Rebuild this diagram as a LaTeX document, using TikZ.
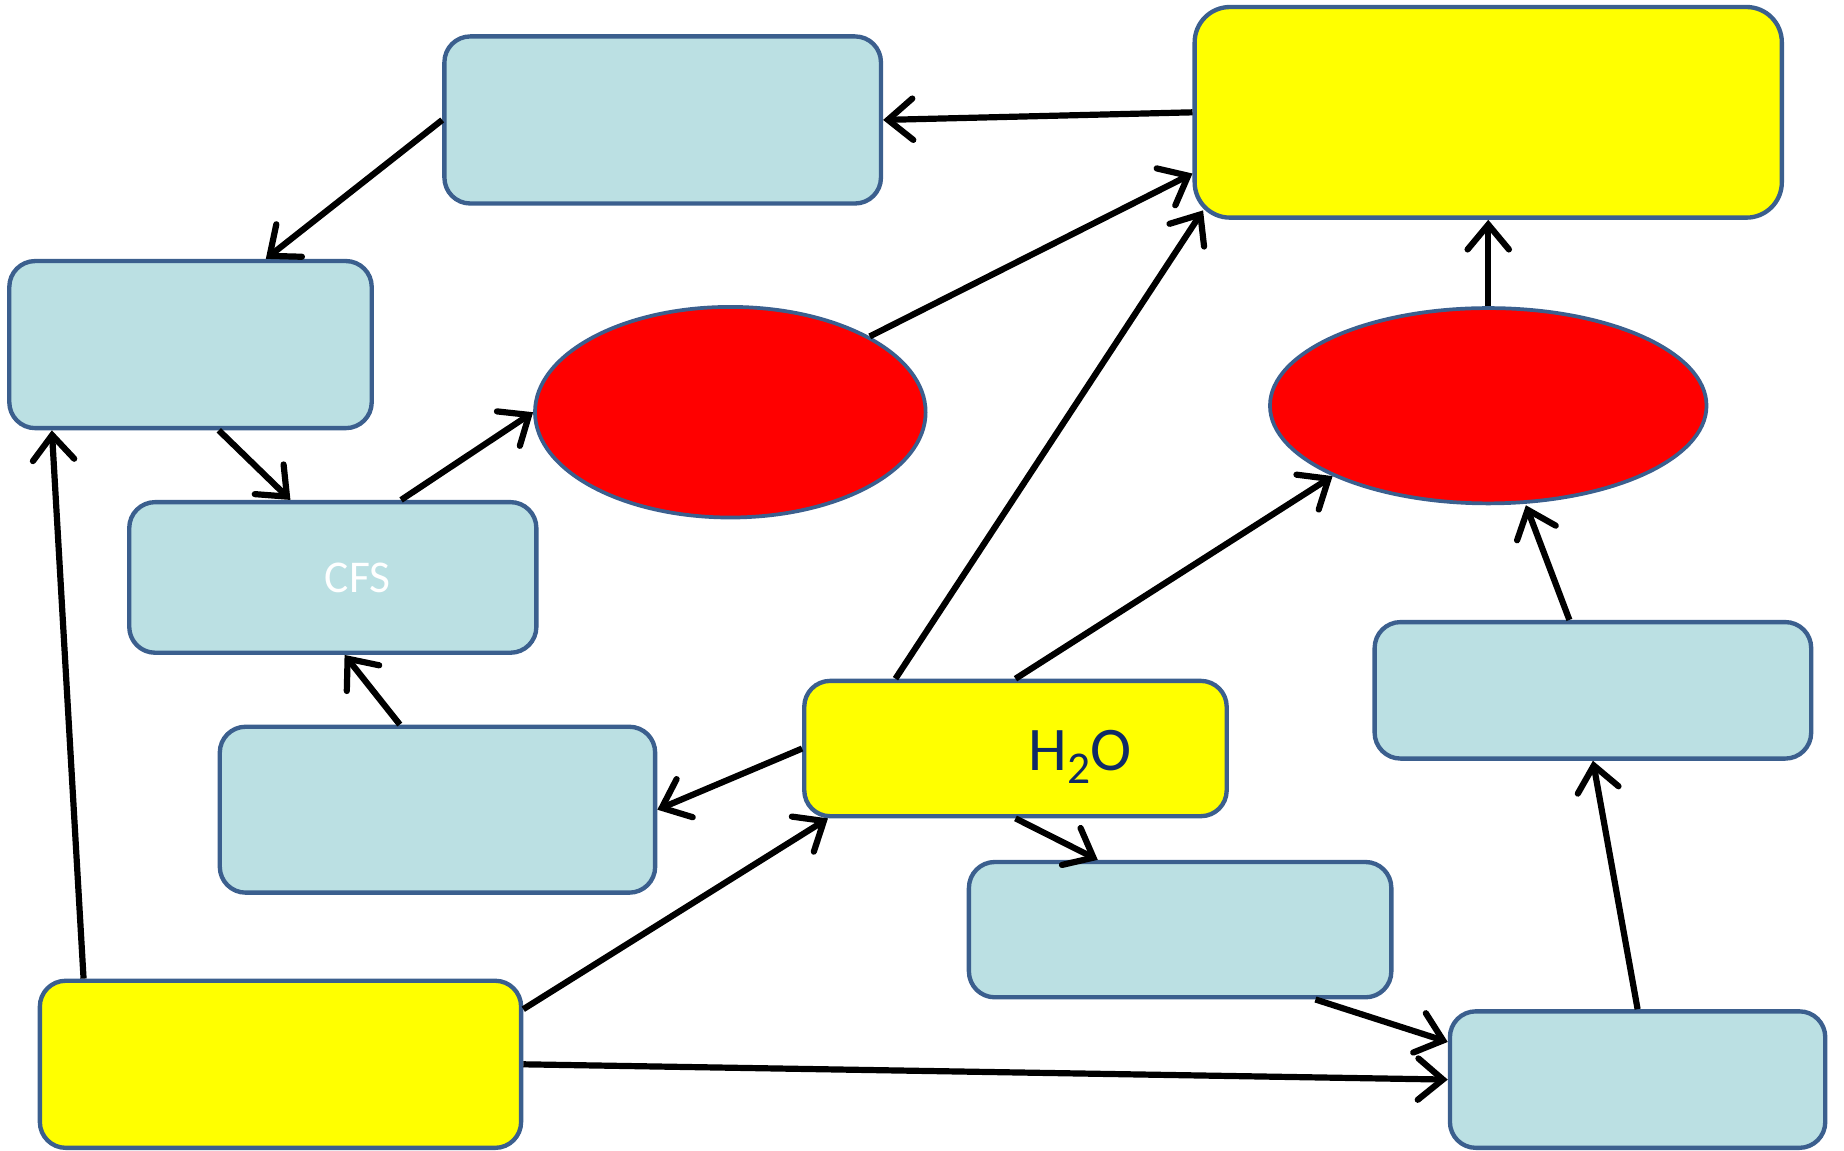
\documentclass[tikz,border=0pt]{standalone}
\usepackage{fontspec}
\setmainfont{Carlito}
\usetikzlibrary{arrows.meta,shapes.geometric}
\definecolor{paleblue}{HTML}{BBE0E3}
\definecolor{edgeblue}{HTML}{3B5F8E}
\definecolor{navytext}{HTML}{0F2A66}
\definecolor{brightyellow}{HTML}{FFFF00}
\definecolor{brightred}{HTML}{FF0000}
\tikzset{every path/.style={line width=1.5pt}, arr/.style={black,-{Straight Barb[length=6pt,width=10pt,line cap=round]}},
  box/.style={draw=edgeblue,line width=1.05pt,fill=paleblue,rounded corners=0.22cm,inner sep=0pt},
  ybox/.style={box,fill=brightyellow},
  redell/.style={draw=edgeblue,line width=0.9pt,fill=brightred,ellipse,inner sep=0pt}}

\begin{document}
\begin{tikzpicture}[x=0.01cm,y=-0.01cm]
  \useasboundingbox (0,0) rectangle (1568,978);
  % boxes
  \node[box,minimum width=3.71cm,minimum height=1.42cm] (a) at (563.5,102) {};
  \node[ybox,rounded corners=0.3cm,minimum width=4.99cm,minimum height=1.79cm] (b) at (1265.5,95.5) {};
  \node[box,minimum width=3.08cm,minimum height=1.42cm] (c) at (162,293) {};
  \node[redell,minimum width=3.32cm,minimum height=1.79cm] (d) at (621,350.5) {};
  \node[redell,minimum width=3.71cm,minimum height=1.66cm] (e) at (1265.5,345) {};
  \node[box,minimum width=3.46cm,minimum height=1.28cm,text=white,font=\fontsize{11}{13}\selectfont] (cfs) at (283,491) {\hspace*{0.42cm}CFS};
  \node[box,minimum width=3.70cm,minimum height=1.41cm] (g) at (372,688.5) {};
  \node[ybox,minimum width=3.59cm,minimum height=1.15cm,text=navytext,font=\fontsize{15}{18}\selectfont] (h2o) at (863.5,636.5) {\hspace*{1.1cm}\raisebox{-0.07cm}[\height][\depth]{H\raisebox{-0.45ex}{\fontsize{11}{13}\selectfont 2}O}};
  \node[box,minimum width=3.71cm,minimum height=1.16cm] (i) at (1354.5,587) {};
  \node[box,minimum width=3.59cm,minimum height=1.15cm] (j) at (1003.5,790.5) {};
  \node[ybox,minimum width=4.09cm,minimum height=1.42cm] (k) at (238.5,905) {};
  \node[box,minimum width=3.19cm,minimum height=1.16cm] (l) at (1392.5,918) {};
  % connectors
  \draw[arr] (b.west) -- (a.east);
  \draw[arr] (a.west) -- ([xshift=0.64cm]c.north);
  \draw[arr] ([xshift=0.24cm]c.south) -- ([xshift=-0.36cm]cfs.north);
  \draw[arr] ([xshift=0.58cm]cfs.north) -- (d.west);
  \draw[arr] (d.north east) -- ([yshift=-0.52cm]b.west);
  \draw[arr] ([xshift=-1.02cm]h2o.north) -- ([xshift=0.09cm,yshift=0.08cm]b.south west);
  \draw[arr] (e.north) -- (b.south);
  \draw[arr] (h2o.north) -- (e.south west);
  \draw[arr] ([xshift=-0.2cm]i.north) -- ([xshift=0.32cm]e.south);
  \draw[arr] ([xshift=-0.32cm]g.north) -- ([xshift=0.1cm]cfs.south);
  \draw[arr] (h2o.west) -- (g.east);
  \draw[arr] ([yshift=-0.26cm]k.north east) -- ([xshift=0.22cm]h2o.south west);
  \draw[arr] ([xshift=0.39cm]k.north west) -- ([xshift=0.38cm]c.south west);
  \draw[arr] (h2o.south) -- ([xshift=-0.7cm]j.north);
  \draw[arr] ([xshift=1.15cm]j.south) -- ([yshift=0.32cm]l.west);
  \draw[arr] (k.east) -- (l.west);
  \draw[arr] (l.north) -- (i.south);
\end{tikzpicture}
\end{document}
